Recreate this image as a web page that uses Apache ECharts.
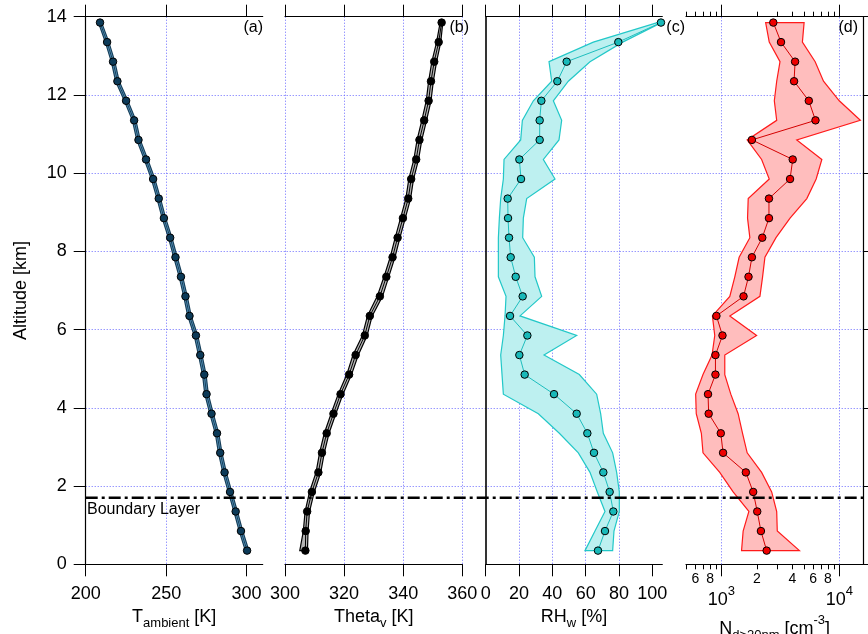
<!DOCTYPE html>
<html><head><meta charset="utf-8">
<script src="https://cdn.jsdelivr.net/npm/echarts@6/dist/echarts.min.js"></script>
<style>html,body{margin:0;padding:0;background:#fff}#chart{width:868px;height:634px}</style>
</head><body><div id="chart"></div>
<script>
// ---------------- data ----------------
const altitude = [0.35, 0.85, 1.35, 1.85, 2.35, 2.85, 3.35, 3.85, 4.35, 4.85, 5.35, 5.85, 6.35, 6.85,
  7.35, 7.85, 8.35, 8.85, 9.35, 9.85, 10.35, 10.85, 11.35, 11.85, 12.35, 12.85, 13.35, 13.85];

const tAmbient = [300.3, 296.5, 293.2, 289.7, 286.3, 283.6, 281.6, 278.2, 275.1, 273.7, 271.2, 268.5, 264.5, 262.0,
  259.2, 255.8, 252.5, 248.6, 245.4, 241.9, 237.5, 232.8, 230.1, 225.1, 219.7, 217.0, 213.3, 208.9];
const tAmbientLow = [299.2, 295.4, 292.1, 288.6, 285.2, 282.5, 280.5, 277.1, 274.0, 272.6, 270.1, 267.4, 263.4, 260.9,
  258.1, 254.7, 251.4, 247.5, 244.3, 240.8, 236.4, 231.7, 229.0, 224.0, 218.6, 215.9, 212.2, 207.9];
const tAmbientHigh = [301.4, 297.6, 294.3, 290.8, 287.4, 284.7, 282.7, 279.3, 276.2, 274.8, 272.3, 269.6, 265.6, 263.1,
  260.3, 256.9, 253.6, 249.7, 246.5, 243.0, 238.6, 233.9, 231.2, 226.2, 220.8, 218.1, 214.4, 209.9];

const thetaV = [306.9, 307.0, 307.5, 309.1, 311.3, 312.5, 314.1, 316.4, 318.8, 321.7, 323.9, 327.0, 328.7, 332.1,
  334.3, 336.4, 338.1, 339.9, 341.7, 342.7, 344.4, 345.5, 347.1, 348.6, 349.4, 350.5, 352.0, 353.0];
const thetaVLow = [305.0, 306.2, 306.8, 308.3, 310.5, 311.7, 313.3, 315.6, 318.0, 320.9, 323.0, 326.2, 327.9, 331.2,
  333.5, 335.6, 337.3, 339.1, 340.9, 341.9, 343.6, 344.7, 346.3, 347.8, 348.6, 349.7, 351.3, 352.5];
const thetaVHigh = [307.6, 307.8, 308.3, 309.9, 312.1, 313.3, 314.9, 317.2, 319.6, 322.5, 324.8, 327.8, 329.5, 333.0,
  335.1, 337.2, 338.9, 340.7, 342.5, 343.5, 345.2, 346.3, 347.9, 349.4, 350.2, 351.3, 352.7, 353.4];

const rhW = [67.4, 71.6, 76.6, 74.4, 70.6, 65.0, 61.0, 54.6, 41.0, 23.4, 20.2, 25.0, 14.6, 22.2,
  18.0, 15.0, 14.0, 13.4, 13.2, 21.2, 20.2, 32.4, 32.4, 33.4, 43.0, 48.6, 79.6, 105.2];
const rhWLow = [59.6, 65.6, 71.6, 67.0, 62.6, 55.6, 44.2, 31.6, 10.6, 9.8, 9.0, 10.6, 11.6, 12.2,
  7.6, 7.6, 7.6, 8.2, 9.0, 10.6, 11.0, 21.0, 22.0, 28.6, 39.6, 38.0, 64.6, 103.0];
const rhWHigh = [76.2, 77.0, 80.2, 80.2, 78.6, 76.2, 70.6, 69.0, 66.6, 56.2, 35.0, 54.6, 20.6, 33.6,
  29.6, 29.2, 22.2, 22.6, 24.6, 41.6, 34.6, 44.0, 45.6, 40.6, 49.6, 62.6, 82.2, 105.6];

const nConc = [2419, 2163, 2012, 1859, 1611, 1032, 987, 779, 769, 889, 889, 1020, 906, 1539,
  1697, 1813, 2220, 2531, 2531, 3822, 4027, 1813, 6285, 5515, 4134, 4217, 3203, 2754];
const nConcLow = [1481, 1528, 1709, 1256, 967, 697, 675, 611, 604, 697, 832, 877, 838, 1177,
  1298, 1413, 1742, 1665, 1687, 2545, 2193, 1653, 2944, 2810, 2944, 3141, 2545, 2372];
const nConcHigh = [4590, 2977, 2944, 2669, 2193, 1653, 1510, 1385, 1200, 1067, 1067, 1988, 1177, 2121,
  2234, 2339, 2904, 3822, 5304, 6368, 7115, 4356, 15100, 10000, 7350, 6245, 4865, 5030];

const boundaryLayerAlt = 1.7;

// tick values / labels
const tTicks = [200, 250, 300];
const thetaTicks = [300, 320, 340, 360];
const rhTicks = [0, 20, 40, 60, 80, 100];
const nMinorTicks = [500, 600, 700, 800, 900, 2000, 3000, 4000, 5000, 6000, 7000, 8000, 9000];
const nMinorLabels = [600, 800, 2000, 4000, 6000, 8000];
const nMajorTicks = [1000, 10000];
const panelLabels = ['(a)', '(b)', '(c)', '(d)'];

// ---------------- chart ----------------
const FONT = '"Liberation Sans", Arial, Helvetica, sans-serif';
const GRID_BLUE = '#6a6aff';
const lg = v => Math.log10(v);
const id = v => v;

const rich = {
  m: {fontSize: 18, padding: [6, 0, 0, 0], verticalAlign: 'top', fontFamily: FONT, color: '#000'},
  s: {fontSize: 13, padding: [15, 0, 0, 0], verticalAlign: 'top', fontFamily: FONT, color: '#000'},
  p: {fontSize: 13, padding: [0, 0, 0, 0], verticalAlign: 'top', fontFamily: FONT, color: '#000'}
};

const Y0 = 16.7, H = 547.6;
const grids = [
  {left: 85.7, top: Y0, width: 177, height: H},
  {left: 285, top: Y0, width: 177.3, height: H},
  {left: 485.7, top: Y0, width: 176.6, height: H},
  {left: 686, top: Y0, width: 177.3, height: H},
  {left: 85.7, top: Y0, width: 777.6, height: H}
].map(g => Object.assign(g, {outerBoundsMode: 'none', containLabel: false}));

const lineBlack = {color: '#000', width: 1.2};
const dotted = {color: GRID_BLUE, type: [1, 2], width: 1};

function xAxisPair(gi, min, max, interval, ticks, name, showMin, showMax) {
  return [
    {
      gridIndex: gi, type: 'value', position: 'bottom', min, max, interval,
      axisLine: {show: true, onZero: false, lineStyle: lineBlack},
      axisTick: {show: true, length: 12, customValues: ticks, lineStyle: {color: '#000', width: 1}},
      axisLabel: {show: true, customValues: ticks, fontSize: 18, margin: 21, color: '#000', fontFamily: FONT},
      splitLine: {show: true, showMinLine: showMin, showMaxLine: showMax, lineStyle: dotted},
      name, nameLocation: 'middle', nameGap: 35, nameTextStyle: {rich}
    },
    {
      gridIndex: gi, type: 'value', position: 'top', min, max, interval,
      axisLine: {show: true, onZero: false, lineStyle: lineBlack},
      axisTick: {show: true, length: 12, customValues: ticks, lineStyle: {color: '#000', width: 1}},
      axisLabel: {show: false},
      splitLine: {show: false}
    }
  ];
}

const dMin = lg(500), dMax = lg(16000);
const minorFmt = v => {
  const n = Math.pow(10, v);
  return String(Math.round(n / Math.pow(10, Math.floor(v + 1e-9))));
};

const xAxes = [
  ...xAxisPair(0, 200, 310, 50, tTicks, '{m|T}{s|ambient}{m| [K]}', false, false),
  ...xAxisPair(1, 300, 360, 20, thetaTicks, '{m|Theta}{s|v}{m| [K]}', true, true),
  ...xAxisPair(2, 0, 106, 20, rhTicks, '{m|RH}{s|w}{m| [%]}', false, false),
  // panel d: log10 space
  {
    gridIndex: 3, type: 'value', position: 'bottom', min: dMin, max: dMax,
    axisLine: {show: true, onZero: false, lineStyle: lineBlack},
    axisTick: {show: true, length: 5, customValues: nMinorTicks.map(lg), lineStyle: {color: '#000', width: 1}},
    axisLabel: {show: true, customValues: nMinorLabels.map(lg), formatter: minorFmt, fontSize: 14, margin: 8, color: '#000', fontFamily: FONT},
    splitLine: {show: false}
  },
  {
    gridIndex: 3, type: 'value', position: 'bottom', min: dMin, max: dMax,
    axisLine: {show: false, onZero: false},
    axisTick: {show: true, length: 12, customValues: nMajorTicks.map(lg), lineStyle: {color: '#000', width: 1}},
    axisLabel: {show: true, customValues: nMajorTicks.map(lg), formatter: v => '{m|10}{p|' + Math.round(v) + '}', margin: 21, rich},
    splitLine: {show: false},
    name: '{m|N}{s|d>20nm}{m| [cm}{p|-3}{m|]}', nameLocation: 'middle', nameGap: 49, nameTextStyle: {rich}
  },
  {
    gridIndex: 3, type: 'value', position: 'top', min: dMin, max: dMax,
    axisLine: {show: true, onZero: false, lineStyle: lineBlack},
    axisTick: {show: true, length: 5, customValues: nMinorTicks.map(lg), lineStyle: {color: '#000', width: 1}},
    axisLabel: {show: false}, splitLine: {show: false}
  },
  {
    gridIndex: 3, type: 'value', position: 'top', min: dMin, max: dMax,
    axisLine: {show: false, onZero: false},
    axisTick: {show: true, length: 12, customValues: nMajorTicks.map(lg), lineStyle: {color: '#000', width: 1}},
    axisLabel: {show: false}, splitLine: {show: false}
  },
  {gridIndex: 4, type: 'value', min: 0, max: 1, show: false}
];
// indices: a:0(bottom),1 ; b:2,3 ; c:4,5 ; d:6,7,8,9 ; bg:10

const yAxes = [
  {
    gridIndex: 0, type: 'value', position: 'left', min: 0, max: 14, interval: 2,
    axisLine: {show: true, onZero: false, lineStyle: lineBlack},
    axisTick: {show: true, length: 12, lineStyle: {color: '#000', width: 1}},
    axisLabel: {fontSize: 18, margin: 19, color: '#000', fontFamily: FONT},
    splitLine: {show: false},
    name: 'Altitude [km]', nameLocation: 'middle', nameGap: 56,
    nameTextStyle: {fontSize: 18, fontFamily: FONT, color: '#000'}
  },
  {gridIndex: 1, type: 'value', min: 0, max: 14, interval: 2, show: false},
  {
    gridIndex: 2, type: 'value', position: 'left', min: 0, max: 14, interval: 2,
    axisLine: {show: true, onZero: false, lineStyle: {color: '#000', width: 1.6}},
    axisTick: {show: false}, axisLabel: {show: false}, splitLine: {show: false}
  },
  {
    gridIndex: 3, type: 'value', position: 'right', min: 0, max: 14, interval: 2,
    axisLine: {show: true, onZero: false, lineStyle: lineBlack},
    axisTick: {show: true, length: 5, lineStyle: {color: '#000', width: 1}},
    axisLabel: {show: false}, splitLine: {show: false}
  },
  {
    gridIndex: 4, type: 'value', position: 'left', min: 0, max: 14, interval: 2,
    axisLine: {show: false}, axisTick: {show: false}, axisLabel: {show: false},
    splitLine: {show: true, showMinLine: false, showMaxLine: false, lineStyle: dotted}
  }
];

function band(xi, yi, lo, hi, tf, fill, stroke) {
  return {
    type: 'custom', xAxisIndex: xi, yAxisIndex: yi, z: 2, silent: true,
    data: altitude.map((a, i) => [tf(lo[i]), tf(hi[i]), a]),
    encode: {x: [0, 1], y: 2},
    renderItem: (params, api) => {
      if (params.dataIndex !== 0) return null;
      const pts = [];
      for (let i = 0; i < altitude.length; i++) pts.push(api.coord([tf(lo[i]), altitude[i]]));
      for (let i = altitude.length - 1; i >= 0; i--) pts.push(api.coord([tf(hi[i]), altitude[i]]));
      return {type: 'polygon', shape: {points: pts}, style: {fill, stroke, lineWidth: 1.2}};
    }
  };
}

function profile(xi, yi, vals, tf, lineColor, markerColor, extra) {
  return Object.assign({
    type: 'line', xAxisIndex: xi, yAxisIndex: yi, z: 3,
    data: vals.map((v, i) => [tf(v), altitude[i]]),
    symbol: 'circle', symbolSize: 7.5, showSymbol: true,
    lineStyle: {color: lineColor, width: 1},
    itemStyle: {color: markerColor, borderColor: '#000', borderWidth: 1},
    emphasis: {disabled: true}, silent: true
  }, extra || {});
}

const series = [
  band(0, 0, tAmbientLow, tAmbientHigh, id, '#5d9cc4', '#173f5a'),
  profile(0, 0, tAmbient, id, '#173f5a', '#0c3a58'),
  band(2, 1, thetaVLow, thetaVHigh, id, '#b4b4b4', '#000'),
  profile(2, 1, thetaV, id, '#000', '#000'),
  band(4, 2, rhWLow, rhWHigh, id, '#bdf0f0', '#22c8c8'),
  profile(4, 2, rhW, id, '#1ebebe', '#19b9b9'),
  band(6, 3, nConcLow, nConcHigh, lg, '#ffbdbd', '#ff1a1a'),
  profile(6, 3, nConc, lg, '#d40000', '#ee0000', {
    markLine: {
      z: 1, silent: true, symbol: 'none', label: {show: false},
      lineStyle: dotted,
      data: nMajorTicks.map(v => ({xAxis: lg(v)}))
    }
  }),
  {
    type: 'line', xAxisIndex: 10, yAxisIndex: 4, z: 10, silent: true,
    data: [[0, boundaryLayerAlt], [1, boundaryLayerAlt]],
    symbol: 'none',
    lineStyle: {color: '#000', width: 2.6, type: [12, 4, 3, 4]}
  }
];

const panelLabelX = [263, 469, 685, 858];
const graphic = panelLabels.map((t, i) => ({
  type: 'text', x: panelLabelX[i], y: 20, z: 20,
  style: {text: t, fontSize: 16, fontFamily: FONT, fill: '#000', align: 'right', verticalAlign: 'top'}
}));
graphic.push({
  type: 'text', x: 87, y: 502, z: 20,
  style: {text: 'Boundary Layer', fontSize: 16, fontFamily: FONT, fill: '#000', align: 'left', verticalAlign: 'top'}
});

const chart = echarts.init(document.getElementById('chart'), null, {renderer: 'canvas'});
chart.setOption({
  animation: false,
  backgroundColor: '#fff',
  textStyle: {fontFamily: FONT},
  grid: grids,
  xAxis: xAxes,
  yAxis: yAxes,
  series,
  graphic
});
</script></body></html>
